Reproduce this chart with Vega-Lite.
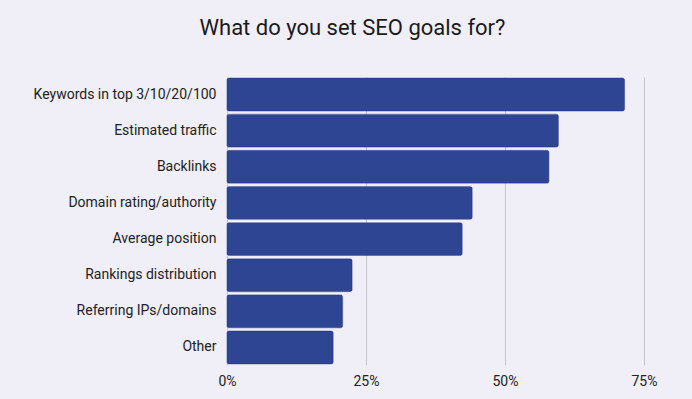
{
  "$schema": "https://vega.github.io/schema/vega-lite/v6.json",
  "autosize": {"type": "none"},
  "padding": {"left": 227, "top": 77, "right": 48, "bottom": 34},
  "width": 417,
  "height": 288,
  "background": "#f0eef6",
  "title": {
    "text": "What do you set SEO goals for?",
    "font": "Roboto",
    "fontSize": 22,
    "fontWeight": "normal",
    "color": "#1a1a1a",
    "anchor": "middle",
    "dx": -83,
    "offset": 37
  },
  "data": {
    "values": [
      {"goal": "Keywords in top 3/10/20/100", "pct": 71.5},
      {"goal": "Estimated traffic", "pct": 59.6},
      {"goal": "Backlinks", "pct": 57.9},
      {"goal": "Domain rating/authority", "pct": 44.1},
      {"goal": "Average position", "pct": 42.3},
      {"goal": "Rankings distribution", "pct": 22.5},
      {"goal": "Referring IPs/domains", "pct": 20.8},
      {"goal": "Other", "pct": 19.1}
    ]
  },
  "mark": {"type": "bar", "color": "#2e4594", "cornerRadius": 2, "stroke": "#26398a", "strokeWidth": 0.5},
  "encoding": {
    "y": {
      "field": "goal",
      "type": "nominal",
      "sort": null,
      "scale": {"paddingInner": 0.09, "paddingOuter": 0.03},
      "axis": {
        "title": null,
        "domain": false,
        "ticks": false,
        "labelPadding": 11,
        "labelFont": "Roboto",
        "labelFontSize": 14,
        "labelColor": "#222222",
        "labelLimit": 300
      }
    },
    "x": {
      "field": "pct",
      "type": "quantitative",
      "scale": {"domain": [0, 75], "nice": false},
      "axis": {
        "title": null,
        "values": [0, 25, 50, 75],
        "labelExpr": "datum.value + '%'",
        "domain": false,
        "ticks": false,
        "labelPadding": 9,
        "labelFont": "Roboto",
        "labelFontSize": 14,
        "labelColor": "#222222",
        "labelFlush": false,
        "grid": true,
        "gridColor": "#c4c4c8",
        "gridWidth": 1
      }
    }
  },
  "config": {"view": {"stroke": null}}
}
